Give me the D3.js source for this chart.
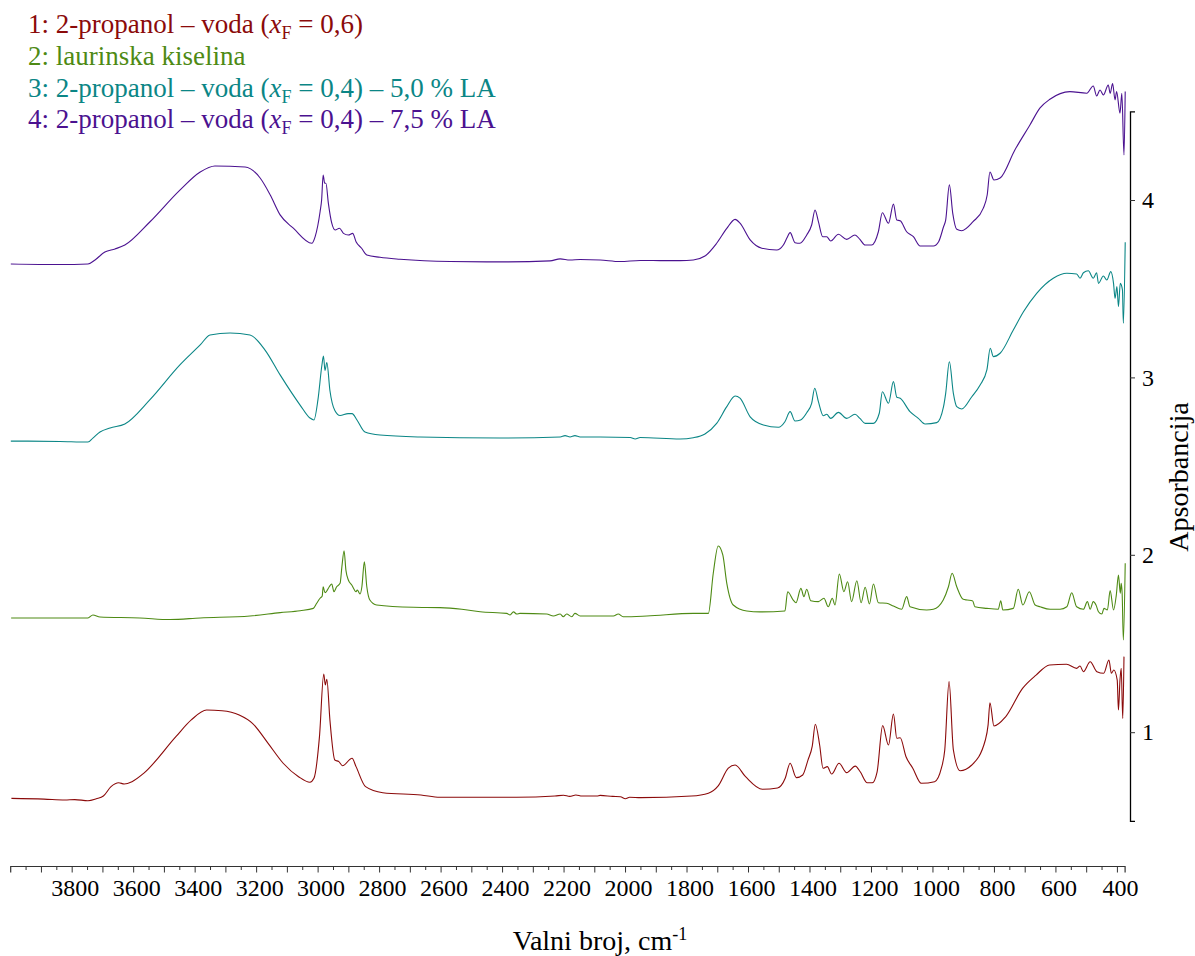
<!DOCTYPE html>
<html><head><meta charset="utf-8">
<script src="https://cdn.jsdelivr.net/npm/d3@7"></script>
<style>
html,body{margin:0;padding:0;background:#fff;}
svg{display:block;font-family:"Liberation Serif","Times New Roman",serif;}
svg text{font-family:"Liberation Serif","Times New Roman",serif !important;}
</style></head>
<body><svg id="chart" width="1195" height="956"></svg>
<script>
// ---------- DATA (wavenumber cm^-1, absorbance) ----------
const seriesNames = ["1", "2", "3", "4"];
const seriesColors = ["#8b0a0a", "#4e8a14", "#0b8686", "#4b1290"];

const wn1 = [3996,3890,3822,3790,3747,3720,3697,3672,3647,3629,3604,3566,3461,3411,3361,3311,3255,3212,3161,3112,3062,3025,3012,2994,2980,2975,2970,2960,2944,2931,2919,2888,2875,2844,2788,2664,2602,2353,2228,2200,2180,2160,2140,2091,2081,2040,2015,1999,1985,1949,1784,1729,1697,1664,1642,1608,1553,1504,1479,1463,1443,1422,1405,1391,1381,1367,1356,1342,1328,1304,1279,1251,1235,1212,1196,1180,1162,1143,1127,1116,1105,1086,1064,1036,993,971,960,946,932,910,872,828,819,813,800,762,707,663,619,564,531,520,509,487,465,443,426,418,410,399,395,390,386,381,377];
const ab1 = [0.627,0.623,0.618,0.620,0.614,0.625,0.640,0.693,0.715,0.708,0.721,0.768,0.975,1.069,1.125,1.121,1.097,1.050,0.937,0.825,0.749,0.718,0.740,0.975,1.328,1.266,1.298,1.069,0.843,0.834,0.811,0.853,0.806,0.693,0.659,0.646,0.633,0.633,0.640,0.645,0.638,0.646,0.640,0.640,0.644,0.638,0.636,0.625,0.633,0.631,0.640,0.656,0.697,0.797,0.815,0.749,0.678,0.685,0.740,0.825,0.744,0.759,0.843,0.922,1.045,0.928,0.797,0.806,0.764,0.825,0.772,0.809,0.777,0.715,0.715,0.777,1.037,0.928,1.103,0.966,0.969,0.862,0.797,0.712,0.721,0.797,0.900,1.285,0.900,0.783,0.815,0.956,1.041,1.166,1.035,1.087,1.247,1.322,1.379,1.383,1.360,1.373,1.341,1.397,1.341,1.332,1.407,1.332,1.351,1.294,1.125,1.294,1.360,1.078,1.426];

const wn2 = [3997,3747,3731,3708,3578,3480,3382,3220,3122,3057,3014,3003,2992,2985,2982,2976,2968,2962,2954,2947,2938,2927,2921,2914,2908,2900,2889,2875,2871,2862,2856,2848,2840,2830,2808,2689,2602,2531,2471,2385,2374,2363,2352,2342,2255,2233,2211,2201,2190,2173,2163,2146,2038,2022,2006,1929,1778,1729,1713,1697,1682,1669,1648,1604,1561,1480,1471,1453,1444,1428,1418,1409,1396,1371,1353,1339,1326,1317,1303,1288,1276,1263,1246,1232,1219,1205,1192,1176,1149,1127,1100,1084,1073,1019,997,965,948,936,921,900,887,869,862,823,786,778,771,737,721,706,685,666,650,617,585,563,547,531,509,496,487,477,468,460,449,442,431,422,411,402,395,389,386,383,379,373];
const ab2 = [1.644,1.644,1.661,1.649,1.644,1.635,1.644,1.655,1.674,1.685,1.698,1.727,1.755,1.768,1.820,1.786,1.802,1.820,1.835,1.792,1.820,1.839,1.933,2.023,1.914,1.858,1.830,1.792,1.802,1.779,1.820,1.961,1.820,1.745,1.717,1.704,1.702,1.693,1.679,1.670,1.661,1.678,1.666,1.670,1.666,1.655,1.666,1.651,1.666,1.651,1.670,1.655,1.655,1.666,1.651,1.655,1.670,1.670,1.896,2.050,1.999,1.839,1.717,1.683,1.678,1.683,1.792,1.745,1.730,1.811,1.764,1.806,1.741,1.736,1.755,1.707,1.755,1.717,1.892,1.792,1.848,1.736,1.854,1.730,1.817,1.723,1.835,1.730,1.727,1.711,1.693,1.764,1.707,1.689,1.693,1.745,1.820,1.896,1.820,1.749,1.745,1.740,1.707,1.698,1.693,1.741,1.689,1.698,1.806,1.717,1.792,1.717,1.707,1.693,1.693,1.707,1.786,1.707,1.693,1.736,1.693,1.736,1.717,1.679,1.666,1.698,1.689,1.798,1.689,1.773,1.886,1.783,1.839,1.783,1.520,1.952];

const wn3 = [3998,3838,3747,3731,3708,3675,3627,3546,3448,3382,3350,3285,3220,3171,3122,3057,3025,3012,2999,2986,2981,2976,2970,2960,2944,2927,2901,2888,2872,2846,2797,2667,2407,2211,2195,2179,2163,2146,2081,1983,1967,1951,1821,1778,1740,1702,1669,1642,1626,1593,1550,1501,1480,1463,1447,1429,1409,1393,1383,1371,1355,1344,1331,1306,1279,1252,1236,1219,1192,1173,1163,1143,1127,1116,1105,1073,1046,1024,986,964,957,945,932,921,905,872,845,823,812,802,780,737,704,661,607,563,531,520,509,493,477,466,460,444,433,420,411,406,400,395,389,382,379,373];
const ab3 = [2.641,2.639,2.636,2.658,2.692,2.715,2.737,2.873,3.070,3.183,3.239,3.250,3.239,3.154,3.014,2.844,2.771,2.760,2.873,3.070,3.121,3.039,3.084,2.926,2.813,2.785,2.796,2.796,2.760,2.692,2.675,2.664,2.658,2.664,2.672,2.664,2.672,2.664,2.664,2.661,2.653,2.661,2.653,2.660,2.681,2.741,2.835,2.895,2.883,2.778,2.732,2.719,2.750,2.807,2.754,2.760,2.801,2.854,2.939,2.863,2.784,2.792,2.769,2.803,2.769,2.792,2.769,2.741,2.741,2.798,2.919,2.854,2.976,2.888,2.882,2.807,2.769,2.737,2.745,2.835,2.910,3.088,2.910,2.835,2.822,2.891,2.957,3.042,3.164,3.117,3.136,3.267,3.370,3.474,3.559,3.587,3.583,3.559,3.590,3.601,3.559,3.590,3.530,3.572,3.549,3.596,3.530,3.446,3.512,3.399,3.530,3.493,3.305,3.762];

const wn4 = [3998,3838,3747,3724,3692,3659,3627,3546,3448,3382,3334,3236,3187,3154,3122,3079,3019,3008,2992,2987,2982,2977,2973,2965,2954,2943,2929,2916,2900,2886,2875,2857,2840,2797,2732,2569,2407,2244,2211,2179,2146,2081,2016,1951,1821,1778,1740,1702,1669,1642,1626,1593,1555,1507,1485,1474,1463,1447,1431,1409,1393,1382,1371,1357,1344,1331,1306,1279,1252,1236,1219,1198,1176,1163,1143,1127,1116,1105,1084,1062,1040,997,980,964,957,945,934,921,905,868,835,822,813,800,780,732,683,650,618,553,498,477,466,455,444,428,422,414,406,401,390,384,377,373];
const ab4 = [3.639,3.636,3.639,3.662,3.707,3.724,3.746,3.876,4.056,4.158,4.192,4.186,4.124,4.028,3.916,3.841,3.756,3.794,3.934,4.000,4.141,4.094,4.094,3.981,3.869,3.831,3.841,3.812,3.803,3.812,3.765,3.728,3.690,3.677,3.666,3.653,3.651,3.657,3.668,3.662,3.665,3.662,3.653,3.659,3.658,3.662,3.684,3.756,3.840,3.891,3.869,3.775,3.728,3.718,3.746,3.784,3.816,3.759,3.756,3.803,3.859,3.944,3.878,3.793,3.793,3.769,3.807,3.778,3.803,3.778,3.746,3.746,3.821,3.928,3.869,3.977,3.887,3.883,3.821,3.793,3.741,3.741,3.765,3.849,3.887,4.085,3.925,3.835,3.827,3.878,3.953,4.028,4.158,4.113,4.124,4.282,4.423,4.519,4.568,4.611,4.602,4.643,4.586,4.620,4.592,4.648,4.601,4.656,4.564,4.611,4.489,4.601,4.254,4.611];

const xTickValues = d3.range(3950, 399, -50);
const xLabelValues = d3.range(3800, 399, -200);
const yTickValues = [1, 2, 3, 4];
const legendLines = [
  {pre: "1: 2-propanol – voda (", val: " = 0,6)", post: ""},
  {plain: "2: laurinska kiselina"},
  {pre: "3: 2-propanol – voda (", val: " = 0,4)", post: " – 5,0 % LA"},
  {pre: "4: 2-propanol – voda (", val: " = 0,4)", post: " – 7,5 % LA"}
];
const xTitle = "Valni broj, cm";
const yTitle = "Apsorbancija";

// ---------- CHART ----------
const svg = d3.select("#chart");
const x = d3.scaleLinear().domain([4000, 375]).range([10.2, 1124.6]);
const y = d3.scaleLinear().domain([0.5, 4.5]).range([820.9, 111.3]);

const series = [[wn1, ab1], [wn2, ab2], [wn3, ab3], [wn4, ab4]].map((s, i) => ({
  name: seriesNames[i], color: seriesColors[i],
  pts: s[0].map((w, j) => ({w, a: s[1][j]}))
}));

const line = d3.line().x(d => x(d.w)).y(d => y(d.a)).curve(d3.curveMonotoneX);
svg.append("g").selectAll("path").data(series).join("path")
  .attr("d", d => line(d.pts))
  .attr("fill", "none").attr("stroke", d => d.color).attr("stroke-width", 1.1)
  .attr("stroke-linejoin", "round");

// x axis
const xAxis = d3.axisBottom(x).tickValues(xTickValues)
  .tickFormat(v => xLabelValues.includes(v) ? String(v) : "")
  .tickSizeOuter(0).tickSize(6.5).tickPadding(6);
const gx = svg.append("g").attr("transform", "translate(0,866)").call(xAxis)
  .attr("font-family", null);
gx.select(".domain").attr("stroke", "#333").attr("stroke-width", 1.2);
gx.selectAll(".tick line").attr("stroke", "#333")
  .attr("y2", d => (d % 100 === 0 ? 6.5 : 4));
gx.selectAll(".tick text").attr("font-size", 24).attr("fill", "#000")
  .style("font-family", "'Liberation Serif', serif").attr("dx", 3);

// y axis (right)
const yAxis = d3.axisRight(y).tickValues(yTickValues).tickFormat(d3.format("d"))
  .tickSizeOuter(0).tickSize(5).tickPadding(7);
const gy = svg.append("g").attr("transform", "translate(1130,0)").call(yAxis)
  .attr("font-family", null);
gy.select(".domain").attr("stroke", "#000").attr("stroke-width", 1.3);
gy.selectAll(".tick line").attr("stroke", "#333");
gy.selectAll(".tick text").attr("font-size", 24).attr("fill", "#000")
  .style("font-family", "'Liberation Serif', serif");

// axis titles
const xt = svg.append("text").attr("x", 600).attr("y", 950).attr("text-anchor", "middle")
  .attr("font-size", 28).attr("fill", "#000");
xt.append("tspan").text(xTitle);
xt.append("tspan").attr("dy", -10).attr("font-size", 18).text("-1");

svg.append("text").attr("transform", "translate(1188,477) rotate(-90)")
  .attr("text-anchor", "middle").attr("font-size", 28).attr("fill", "#000").text(yTitle);

// legend
const leg = svg.append("g");
legendLines.forEach((L, i) => {
  const t = leg.append("text").attr("x", 28).attr("y", 33 + i * 31.8)
    .attr("font-size", 27).attr("fill", seriesColors[i]);
  if (L.plain) { t.text(L.plain); return; }
  t.append("tspan").text(L.pre);
  t.append("tspan").attr("font-style", "italic").text("x");
  t.append("tspan").attr("dy", 6).attr("font-size", 18).text("F");
  t.append("tspan").attr("dy", -6).text(L.val);
  if (L.post) t.append("tspan").text(L.post);
});
</script></body></html>
